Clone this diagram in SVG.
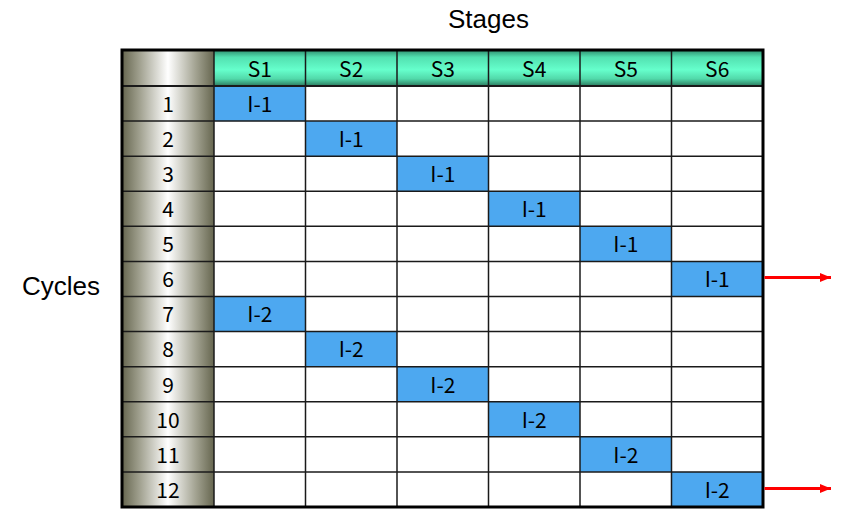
<svg xmlns="http://www.w3.org/2000/svg" width="860" height="517" viewBox="0 0 860 517">
<defs>
<linearGradient id="gCol" x1="0" y1="0" x2="1" y2="0">
<stop offset="0" stop-color="#66664f"/>
<stop offset="0.2" stop-color="#a3a392"/>
<stop offset="0.5" stop-color="#ffffff"/>
<stop offset="0.8" stop-color="#a3a392"/>
<stop offset="1" stop-color="#66664f"/>
</linearGradient>
<linearGradient id="gHead" x1="0" y1="0" x2="0" y2="1">
<stop offset="0" stop-color="#2f8d6d"/>
<stop offset="0.2" stop-color="#52e0b0"/>
<stop offset="0.55" stop-color="#66ffcc"/>
<stop offset="0.8" stop-color="#52d9aa"/>
<stop offset="1" stop-color="#2b7a5e"/>
</linearGradient>
<marker id="ah" markerWidth="11" markerHeight="9" refX="11" refY="4.5" orient="auto" markerUnits="userSpaceOnUse">
<path d="M0,0 L11,4.5 L0,9 z" fill="#ff0000"/>
</marker>
</defs>
<style>
.t{font-family:"Liberation Sans",Arial,sans-serif;font-size:26px;fill:#000}
.c{font-family:"Noto Sans CJK KR","DejaVu Sans",sans-serif;font-size:21px;fill:#000;text-anchor:middle}
.blue{fill:#4da8f0}
.grid{stroke:#1a1a1a;stroke-width:1.5;fill:none}
.arrow{stroke:#ff0000;stroke-width:3;fill:none;marker-end:url(#ah)}
</style>
<rect width="860" height="517" fill="#ffffff"/>
<text class="t" x="448" y="28">Stages</text>
<text class="t" x="22" y="295">Cycles</text>

<g id="rowlabels">
<rect x="122" y="50" width="92" height="457" fill="url(#gCol)"/>
</g>
<g id="header">
<rect x="214" y="50" width="549" height="36" fill="url(#gHead)"/>
<text class="c" x="259.8" y="76.5">S1</text>
<text class="c" x="351.2" y="76.5">S2</text>
<text class="c" x="442.8" y="76.5">S3</text>
<text class="c" x="534.2" y="76.5">S4</text>
<text class="c" x="625.8" y="76.5">S5</text>
<text class="c" x="717.2" y="76.5">S6</text>
</g>

<g id="cells">
<rect class="blue" x="214" y="86" width="91.5" height="35.1"/>
<rect class="blue" x="305.5" y="121.1" width="91.5" height="35.1"/>
<rect class="blue" x="397" y="156.2" width="91.5" height="35.1"/>
<rect class="blue" x="488.5" y="191.3" width="91.5" height="35.1"/>
<rect class="blue" x="580" y="226.3" width="91.5" height="35.1"/>
<rect class="blue" x="671.5" y="261.4" width="91.5" height="35.1"/>
<rect class="blue" x="214" y="296.5" width="91.5" height="35.1"/>
<rect class="blue" x="305.5" y="331.6" width="91.5" height="35.1"/>
<rect class="blue" x="397" y="366.7" width="91.5" height="35.1"/>
<rect class="blue" x="488.5" y="401.8" width="91.5" height="35.1"/>
<rect class="blue" x="580" y="436.8" width="91.5" height="35.1"/>
<rect class="blue" x="671.5" y="471.9" width="91.5" height="35.1"/>
</g>

<g id="grid" class="grid">
<line x1="214" y1="50" x2="214" y2="507"/>
<line x1="305.5" y1="50" x2="305.5" y2="507"/>
<line x1="397" y1="50" x2="397" y2="507"/>
<line x1="488.5" y1="50" x2="488.5" y2="507"/>
<line x1="580" y1="50" x2="580" y2="507"/>
<line x1="671.5" y1="50" x2="671.5" y2="507"/>
<line x1="122" y1="86" x2="763" y2="86" stroke-width="2"/>
<line x1="122" y1="121.1" x2="763" y2="121.1"/>
<line x1="122" y1="156.2" x2="763" y2="156.2"/>
<line x1="122" y1="191.3" x2="763" y2="191.3"/>
<line x1="122" y1="226.3" x2="763" y2="226.3"/>
<line x1="122" y1="261.4" x2="763" y2="261.4"/>
<line x1="122" y1="296.5" x2="763" y2="296.5"/>
<line x1="122" y1="331.6" x2="763" y2="331.6"/>
<line x1="122" y1="366.7" x2="763" y2="366.7"/>
<line x1="122" y1="401.8" x2="763" y2="401.8"/>
<line x1="122" y1="436.8" x2="763" y2="436.8"/>
<line x1="122" y1="471.9" x2="763" y2="471.9"/>
<rect x="122" y="50" width="641" height="457" stroke="#000" stroke-width="3"/>
</g>

<g id="rownums">
<text class="c" x="168" y="111.8">1</text>
<text class="c" x="168" y="146.9">2</text>
<text class="c" x="168" y="182">3</text>
<text class="c" x="168" y="217.1">4</text>
<text class="c" x="168" y="252.1">5</text>
<text class="c" x="168" y="287.2">6</text>
<text class="c" x="168" y="322.3">7</text>
<text class="c" x="168" y="357.4">8</text>
<text class="c" x="168" y="392.5">9</text>
<text class="c" x="168" y="427.6">10</text>
<text class="c" x="168" y="462.6">11</text>
<text class="c" x="168" y="497.7">12</text>
</g>

<g id="celltext">
<text class="c" x="259.8" y="111.8">I-1</text>
<text class="c" x="351.2" y="146.9">I-1</text>
<text class="c" x="442.8" y="182">I-1</text>
<text class="c" x="534.2" y="217.1">I-1</text>
<text class="c" x="625.8" y="252.1">I-1</text>
<text class="c" x="717.2" y="287.2">I-1</text>
<text class="c" x="259.8" y="322.3">I-2</text>
<text class="c" x="351.2" y="357.4">I-2</text>
<text class="c" x="442.8" y="392.5">I-2</text>
<text class="c" x="534.2" y="427.6">I-2</text>
<text class="c" x="625.8" y="462.6">I-2</text>
<text class="c" x="717.2" y="497.7">I-2</text>
</g>

<g id="connectors">
<line class="arrow" x1="764.5" y1="277.5" x2="831" y2="277.5"/>
<line class="arrow" x1="764.5" y1="488.5" x2="831" y2="488.5"/>
</g>
</svg>
